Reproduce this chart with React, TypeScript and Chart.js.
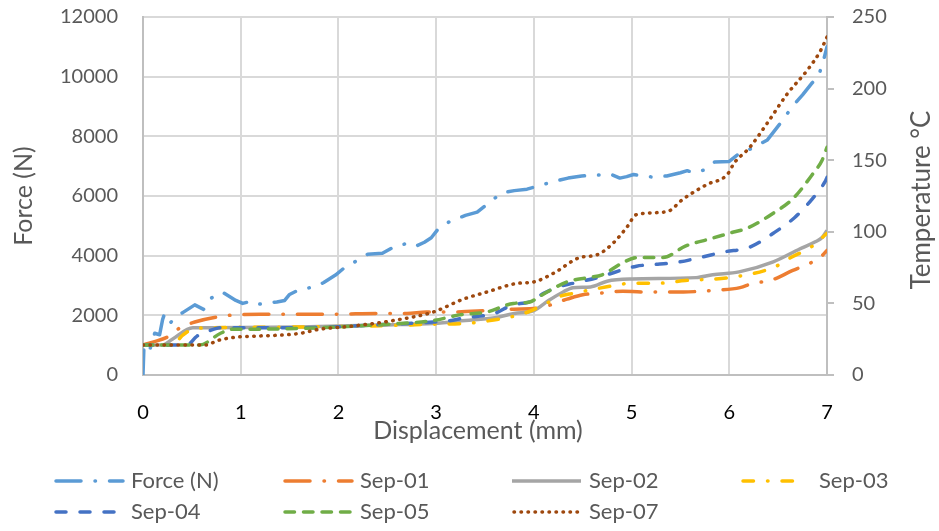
import React, { useEffect, useRef } from "react";
import { Chart, registerables } from "chart.js";

Chart.register(...registerables);

const FONT = "Lato, 'Open Sans', sans-serif";

const xTitle = "Displacement (mm)";
const yTitle = "Force (N)";
const y1Title = "Temperature °C";

const seriesNames = ["Force (N)", "Sep-01", "Sep-02", "Sep-03", "Sep-04", "Sep-05", "Sep-07"];

// [displacement mm, force N]
const forceData: [number, number][] = [
  [0, 0], [0.01, 1000], [0.07, 850], [0.12, 1400], [0.17, 1350], [0.2, 1850], [0.22, 2050], [0.28, 1750],
  [0.34, 1950], [0.41, 2100], [0.53, 2350], [0.62, 2200], [0.7, 2580], [0.81, 2780], [0.95, 2500], [1.02, 2400],
  [1.08, 2450], [1.15, 2350], [1.25, 2410], [1.37, 2450], [1.45, 2500], [1.5, 2700], [1.61, 2880], [1.76, 2950],
  [1.85, 3100], [1.97, 3350], [2.07, 3620], [2.2, 3850], [2.3, 4050], [2.45, 4080], [2.6, 4350], [2.7, 4400],
  [2.78, 4300], [2.88, 4450], [2.95, 4600], [3.02, 4890], [3.14, 5150], [3.3, 5350], [3.42, 5460], [3.55, 5800],
  [3.67, 6100], [3.8, 6180], [3.93, 6230], [4.08, 6370], [4.22, 6500], [4.35, 6600], [4.49, 6670], [4.65, 6700],
  [4.78, 6740], [4.88, 6600], [4.95, 6650], [5.02, 6720], [5.2, 6640], [5.36, 6670], [5.5, 6780], [5.57, 6850],
  [5.63, 6780], [5.74, 6870], [5.85, 7140], [6.0, 7160], [6.08, 7370], [6.24, 7610], [6.39, 7880], [6.55, 8550],
  [6.64, 8980], [6.75, 9390], [6.85, 9800], [6.91, 9990], [6.96, 10490], [7.0, 11000],
];

// [displacement mm, temperature °C]
const sep01Data: [number, number][] = [
  [0, 21], [0.1, 23], [0.25, 26.5], [0.38, 33], [0.53, 37], [0.8, 41], [0.96, 42], [1.2, 42.5], [1.95, 42.5],
  [2.4, 43], [2.7, 43], [2.9, 44], [3.17, 44], [3.52, 45], [3.79, 46], [4.06, 47], [4.34, 53], [4.5, 56],
  [4.65, 57], [4.91, 58.5], [5.1, 58], [5.53, 58], [5.72, 58.5], [5.82, 59], [6.11, 61], [6.24, 64], [6.42, 66],
  [6.65, 73], [6.79, 77], [6.93, 82], [7.0, 87],
];

const sep02Data: [number, number][] = [
  [0, 21], [0.2, 21], [0.3, 25], [0.51, 33], [0.7, 33], [1.6, 33.5], [2.5, 35], [2.97, 36], [3.3, 38], [3.6, 40],
  [3.8, 43], [4.0, 45], [4.15, 52], [4.3, 58], [4.4, 61], [4.58, 61.5], [4.75, 65.5], [5.0, 67], [5.66, 68],
  [5.83, 70], [6.1, 72], [6.45, 79], [6.72, 88], [6.88, 93], [6.95, 96], [7.0, 101],
];

const sep03Data: [number, number][] = [
  [0, 21], [0.3, 21], [0.41, 28], [0.51, 32], [0.7, 33], [1.6, 33.5], [2.5, 34.5], [2.97, 35.5], [3.3, 36],
  [3.55, 38], [3.9, 43], [4.1, 49], [4.27, 55], [4.4, 57], [4.7, 61], [5.0, 64], [5.25, 64], [5.55, 66], [6.0, 68],
  [6.45, 75], [6.63, 82], [6.85, 90], [7.0, 99],
];

const sep04Data: [number, number][] = [
  [0, 21], [0.45, 21], [0.55, 27], [0.65, 30], [0.79, 33], [0.92, 33], [1.6, 33], [2.1, 34], [2.4, 35], [2.97, 37],
  [3.1, 37.5], [3.3, 40], [3.6, 43], [3.78, 49], [3.95, 51], [4.1, 57], [4.27, 62], [4.4, 64], [4.65, 68],
  [5.05, 76], [5.2, 77], [5.45, 78.5], [5.7, 82], [5.95, 86], [6.2, 89], [6.45, 99], [6.67, 110], [6.85, 123],
  [6.98, 135], [7.0, 138],
];

const sep05Data: [number, number][] = [
  [0, 21], [0.58, 21], [0.79, 29], [0.92, 32], [1.1, 32], [1.8, 33], [2.63, 36], [2.97, 38], [3.24, 42], [3.52, 44],
  [3.79, 50], [3.96, 51], [4.06, 55], [4.34, 65], [4.55, 68], [4.7, 70], [4.9, 78], [5.05, 82], [5.32, 82],
  [5.55, 90], [5.8, 95], [6.0, 99], [6.2, 103], [6.45, 113], [6.65, 123], [6.85, 140], [6.95, 150], [7.0, 159],
];

const sep07Data: [number, number][] = [
  [0, 21], [0.65, 21], [0.76, 24], [0.96, 26.5], [1.1, 27], [1.6, 29], [1.81, 32], [2.12, 34], [2.56, 38],
  [2.97, 44], [3.28, 53], [3.52, 58], [3.83, 64], [4.0, 65], [4.2, 71], [4.47, 82], [4.65, 84], [4.81, 92],
  [4.95, 103], [5.05, 112], [5.36, 114], [5.53, 123], [5.77, 133], [5.98, 140], [6.05, 148], [6.21, 159],
  [6.39, 176], [6.59, 196], [6.8, 213], [6.93, 226], [7.0, 236],
];

const allData = [forceData, sep01Data, sep02Data, sep03Data, sep04Data, sep05Data, sep07Data];

const colors = ["#5B9BD5", "#ED7D31", "#A5A5A5", "#FFC000", "#4472C4", "#70AD47", "#9E480E"];
const dashes: number[][] = [
  [25, 14, 0.5, 14],
  [25, 14, 0.5, 14],
  [],
  [10.5, 14, 0.5, 14],
  [10, 14],
  [9.5, 9],
  [0.5, 6.5],
];
const LINE_W = 3.5;

const legendCols = [54, 283, 512, 741];
const legendRows = [481, 512];

const overlayPlugin = {
  id: "overlay",
  afterDraw(chart: any) {
    const ctx = chart.ctx as CanvasRenderingContext2D;
    const area = chart.chartArea;
    ctx.save();
    ctx.fillStyle = "#595959";
    ctx.textAlign = "center";
    ctx.textBaseline = "middle";
    ctx.font = `25px ${FONT}`;
    ctx.fillText(xTitle, 478, 431);
    ctx.save();
    ctx.translate(24, (area.top + area.bottom) / 2);
    ctx.rotate(-Math.PI / 2);
    ctx.fillText(yTitle, 0, 0);
    ctx.restore();
    ctx.font = `26px ${FONT}`;
    ctx.save();
    ctx.translate(922, 200);
    ctx.rotate(-Math.PI / 2);
    ctx.fillText(y1Title, 0, 0);
    ctx.restore();

    // legend
    ctx.font = `22px ${FONT}`;
    ctx.textAlign = "left";
    chart.data.datasets.forEach((ds: any, i: number) => {
      const col = i < 4 ? i : i - 4;
      const row = i < 4 ? 0 : 1;
      const x0 = legendCols[col];
      const y = legendRows[row];
      const len = i === 3 ? 57 : 69;
      ctx.save();
      ctx.strokeStyle = ds.borderColor;
      ctx.lineWidth = ds.borderWidth;
      ctx.lineCap = dashes[i].length ? "round" : "butt";
      ctx.setLineDash(dashes[i]);
      ctx.beginPath();
      ctx.moveTo(x0 + (ctx.lineCap === "round" ? 2 : 0), y);
      ctx.lineTo(x0 + len, y);
      ctx.stroke();
      ctx.restore();
      ctx.fillStyle = "#595959";
      ctx.fillText(ds.label, x0 + (i === 3 ? 78 : 77), y);
    });
    ctx.restore();
  },
};

export default function App() {
  const ref = useRef<HTMLCanvasElement>(null);
  useEffect(() => {
    if (!ref.current) return;
    Chart.defaults.font.family = FONT;
    const datasets = allData.map((d, i) => ({
      label: seriesNames[i],
      data: d.map(([x, y]) => ({ x, y })),
      yAxisID: i === 0 ? "y" : "y1",
      borderColor: colors[i],
      backgroundColor: colors[i],
      borderWidth: LINE_W,
      borderDash: dashes[i],
      borderCapStyle: dashes[i].length ? "round" : "butt",
      borderJoinStyle: "round",
      pointRadius: 0,
      tension: i === 0 ? 0 : 0.3,
      cubicInterpolationMode: i === 0 ? "default" : "monotone",
      fill: false,
      order: allData.length - i,
    }));
    const noVertPad = (s: any) => {
      s.paddingTop = 0;
      s.paddingBottom = 0;
    };
    const chart = new Chart(ref.current, {
      type: "line",
      data: { datasets } as any,
      options: {
        animation: false,
        responsive: true,
        maintainAspectRatio: false,
        layout: { padding: { top: 17, bottom: 106, left: 0, right: 0 } },
        plugins: { legend: { display: false }, tooltip: { enabled: false } },
        scales: {
          x: {
            type: "linear",
            min: 0,
            max: 7,
            ticks: { stepSize: 1, color: "#000000", font: { size: 20 }, padding: 26, callback: (v: any) => String(v) },
            grid: { color: "#d9d9d9", lineWidth: 2, drawTicks: false },
            border: { color: "#bfbfbf", width: 2 },
            afterFit: (s: any) => { s.height = 50; s.paddingLeft = 0; s.paddingRight = 0; },
          },
          y: {
            position: "left",
            min: 0,
            max: 12000,
            ticks: { stepSize: 2000, color: "#595959", font: { size: 20 }, padding: 25, callback: (v: any) => String(v) },
            grid: { color: "#d9d9d9", lineWidth: 2, drawTicks: false },
            border: { color: "#bfbfbf", width: 2 },
            afterFit: (s: any) => { s.width = 143; noVertPad(s); },
          },
          y1: {
            position: "right",
            min: 0,
            max: 250,
            ticks: { stepSize: 50, color: "#595959", font: { size: 20 }, padding: 18, callback: (v: any) => String(v) },
            grid: { drawOnChartArea: false, drawTicks: true, tickLength: 7, color: "#bfbfbf", lineWidth: 2 },
            border: { color: "#bfbfbf", width: 2 },
            afterFit: (s: any) => { s.width = 112; noVertPad(s); },
          },
        },
      } as any,
      plugins: [overlayPlugin],
    });
    return () => chart.destroy();
  }, []);
  return (
    <div style={{ position: "fixed", left: 0, top: 0, width: 939, height: 531, background: "#fff" }}>
      <canvas ref={ref} />
    </div>
  );
}
